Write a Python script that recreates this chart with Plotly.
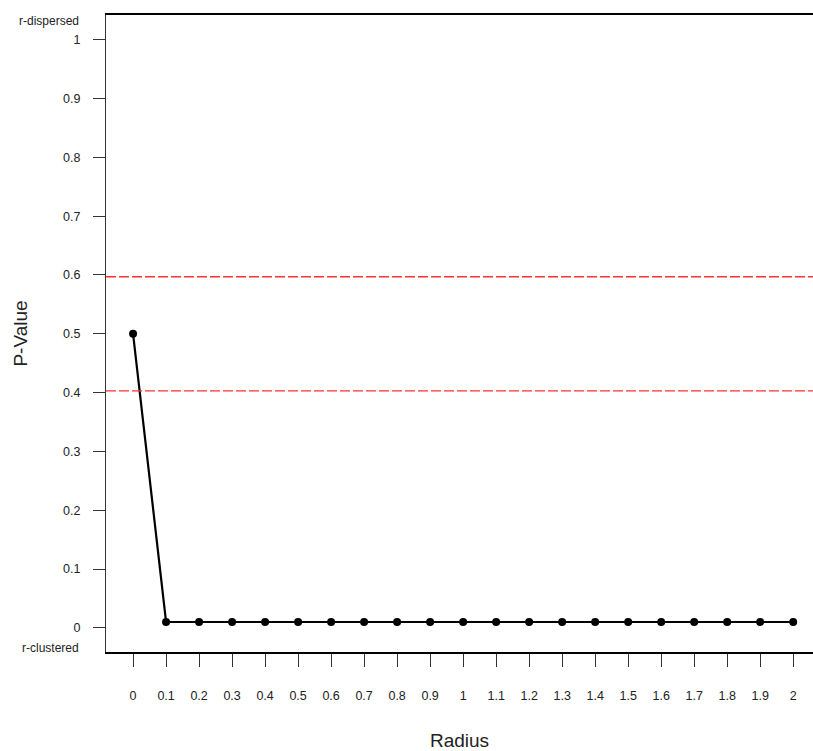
import plotly.graph_objects as go

radius = [0, 0.1, 0.2, 0.3, 0.4, 0.5, 0.6, 0.7, 0.8, 0.9, 1.0,
          1.1, 1.2, 1.3, 1.4, 1.5, 1.6, 1.7, 1.8, 1.9, 2.0]
pvalue = [0.5] + [0.01] * 20
bounds = [0.597, 0.403]
x_ticks = radius
x_tick_labels = ["0", "0.1", "0.2", "0.3", "0.4", "0.5", "0.6", "0.7", "0.8", "0.9", "1",
                 "1.1", "1.2", "1.3", "1.4", "1.5", "1.6", "1.7", "1.8", "1.9", "2"]
y_ticks = [0, 0.1, 0.2, 0.3, 0.4, 0.5, 0.6, 0.7, 0.8, 0.9, 1]
y_tick_labels = ["0", "0.1", "0.2", "0.3", "0.4", "0.5", "0.6", "0.7", "0.8", "0.9", "1"]

font = "Liberation Sans, Arial, sans-serif"

fig = go.Figure()
fig.add_trace(go.Scatter(
    x=radius, y=pvalue, mode="lines+markers",
    line=dict(color="black", width=2.2),
    marker=dict(color="black", size=8),
    showlegend=False,
))

for b in bounds:
    fig.add_shape(type="line", xref="paper", x0=0, x1=1, yref="y", y0=b, y1=b,
                  line=dict(color="#ff3030", width=1.4, dash="10px,3px"))

fig.add_annotation(text="r-dispersed", xref="paper", yref="y", x=-0.036, y=1.032,
                   xanchor="right", yanchor="middle", showarrow=False,
                   font=dict(family=font, size=12, color="#222"))
fig.add_annotation(text="r-clustered", xref="paper", yref="y", x=-0.036, y=-0.034,
                   xanchor="right", yanchor="middle", showarrow=False,
                   font=dict(family=font, size=12, color="#222"))

fig.update_layout(
    width=813, height=751,
    margin=dict(l=106, r=0, t=15, b=99),
    paper_bgcolor="white", plot_bgcolor="white",
    font=dict(family=font, size=13, color="#222"),
    xaxis=dict(
        range=[-0.082, 2.06], tickvals=x_ticks, ticktext=x_tick_labels,
        showgrid=False, zeroline=False, showline=True, linecolor="black", linewidth=1.5,
        mirror=True, ticks="outside", ticklen=13, tickwidth=1.3, tickcolor="#333",
        ticklabelstandoff=18,
        tickfont=dict(family=font, size=12.5, color="#222"),
        title=dict(text="Radius", font=dict(family=font, size=19, color="#222"), standoff=32),
    ),
    yaxis=dict(
        range=[-0.041, 1.042], tickvals=y_ticks, ticktext=y_tick_labels,
        showgrid=False, zeroline=False, showline=True, linecolor="#333", linewidth=1.3,
        ticks="outside", ticklen=12, tickwidth=1.3, tickcolor="#333",
        ticklabelstandoff=10,
        tickfont=dict(family=font, size=12.5, color="#222"),
        title=dict(text="P-Value", font=dict(family=font, size=19, color="#222"), standoff=30),
    ),
)

fig.write_html("out.html", config={"displayModeBar": False},
               post_script="document.body.style.margin='0';")
